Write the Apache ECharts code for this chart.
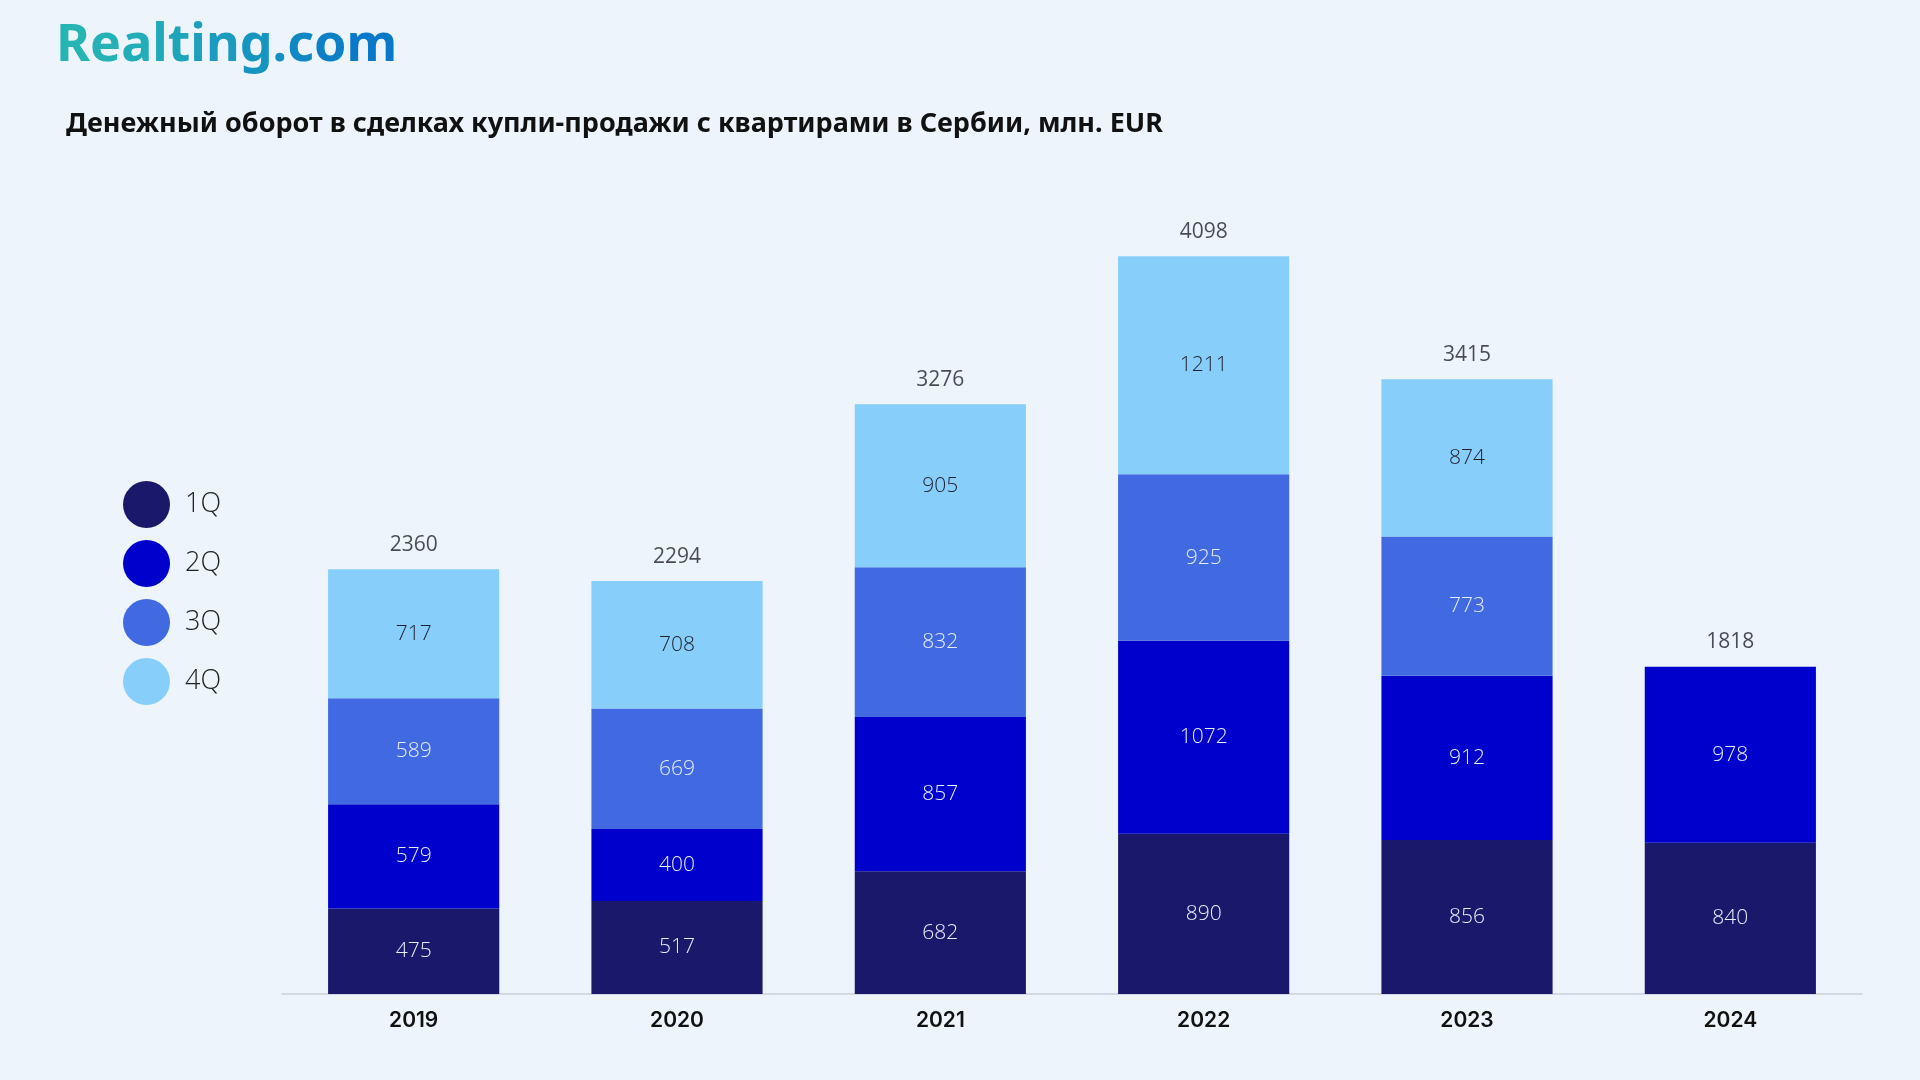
<!DOCTYPE html>
<html>
<head>
<meta charset="utf-8">
<script src="https://cdn.jsdelivr.net/npm/echarts@6/dist/echarts.min.js"></script>
<style>
html,body{margin:0;padding:0;background:#EEF4FB;}
#main{width:1920px;height:1080px;}
</style>
</head>
<body>
<div id="main"></div>
<script>
const categories = ['2019', '2020', '2021', '2022', '2023', '2024'];
const q1 = [475, 517, 682, 890, 856, 840];
const q2 = [579, 400, 857, 1072, 912, 978];
const q3 = [589, 669, 832, 925, 773, null];
const q4 = [717, 708, 905, 1211, 874, null];
const totals = [2360, 2294, 3276, 4098, 3415, 1818];
const seriesNames = ['1Q', '2Q', '3Q', '4Q'];
const colors = ['#1A186B', '#0000CD', '#4169E1', '#87CEFA'];
const labelColors = ['#E6ECFA', '#E6ECFA', '#E6ECFA', '#1F1F2E'];
const logoChars = ['R', 'e', 'a', 'l', 't', 'i', 'n', 'g', '.', 'c', 'o', 'm'];
const logoColors = ['#27B5B4', '#25B1B6', '#23ADB8', '#21A9B9', '#1EA4BB', '#1CA0BD', '#1A9BBF', '#1795C1', '#1490C3', '#1088C5', '#0C80C7', '#0878C9'];

const chart = echarts.init(document.getElementById('main'));
const quarterData = [q1, q2, q3, q4];
const barSeries = quarterData.map((d, i) => ({
  name: seriesNames[i],
  type: 'bar',
  stack: 'total',
  data: d,
  barCategoryGap: '35%',
  itemStyle: { color: colors[i] },
  label: {
    show: true,
    position: 'inside',
    color: labelColors[i],
    fontFamily: 'Open Sans',
    fontWeight: 300,
    fontSize: 21
  },
  emphasis: { disabled: true }
}));

const logoRich = {};
logoColors.forEach((c, i) => {
  logoRich['c' + i] = { fill: c, font: 'bold 52px "Noto Sans"' };
});
const logoText = logoChars.map((ch, i) => '{c' + i + '|' + ch + '}').join('');

const option = {
  backgroundColor: '#EEF4FB',
  animation: false,
  color: colors,
  title: {
    text: 'Денежный оборот в сделках купли-продажи с квартирами в Сербии, млн. EUR',
    left: 66,
    top: 110,
    padding: 0,
    textStyle: {
      fontFamily: 'Noto Sans',
      fontWeight: 'bold',
      fontSize: 27,
      lineHeight: 28,
      color: '#111111'
    }
  },
  graphic: [{
    type: 'text',
    left: 56,
    top: 20,
    style: {
      text: logoText,
      font: 'bold 52px "Noto Sans"',
      rich: logoRich
    }
  }],
  legend: {
    data: seriesNames,
    orient: 'vertical',
    left: 118,
    top: 476,
    itemWidth: 47,
    itemHeight: 47,
    itemGap: 12,
    icon: 'circle',
    textStyle: {
      fontFamily: 'Open Sans',
      fontWeight: 300,
      fontSize: 27,
      color: '#222222',
      padding: [0, 0, 0, 10]
    },
    selectedMode: false
  },
  grid: {
    left: 282,
    right: 58,
    top: 184,
    bottom: 86
  },
  xAxis: {
    type: 'category',
    data: categories,
    axisLine: { show: true, lineStyle: { color: '#D3D8E2', width: 2 } },
    axisTick: { show: false },
    axisLabel: {
      color: '#111111',
      fontFamily: 'Inter',
      fontWeight: 600,
      fontSize: 21,
      margin: 16
    }
  },
  yAxis: {
    type: 'value',
    min: 0,
    max: 4500,
    show: false,
    splitLine: { show: false }
  },
  series: barSeries.concat([{
    name: 'total',
    type: 'scatter',
    data: totals,
    symbolSize: 0,
    silent: true,
    label: {
      show: true,
      position: 'top',
      distance: 14,
      color: '#1F1F2E',
      fontFamily: 'Open Sans',
      fontWeight: 400,
      fontSize: 21
    }
  }])
};
chart.setOption(option);
</script>
</body>
</html>
